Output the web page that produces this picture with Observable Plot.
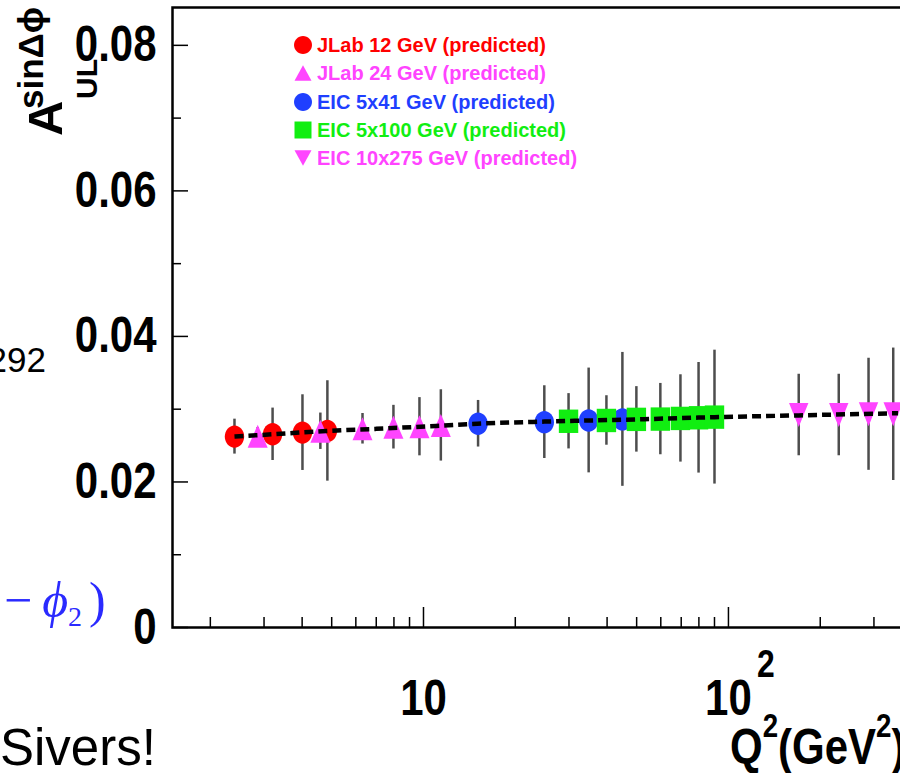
<!DOCTYPE html>
<html><head><meta charset="utf-8">
<script src="https://cdn.jsdelivr.net/npm/d3@7"></script>
<script src="https://cdn.jsdelivr.net/npm/@observablehq/plot@0.6"></script>
<style>
html,body{margin:0;padding:0;background:#fff;overflow:hidden;width:900px;height:773px;}
#wrap{position:absolute;left:0;top:0;width:900px;height:773px;overflow:hidden;}
#wrap svg{max-width:none !important;width:1000px !important;height:773px !important;}
</style></head><body>
<div id="wrap"></div>
<script>
// ---- data ----
const seriesNames = ["JLab 12 GeV (predicted)", "JLab 24 GeV (predicted)", "EIC 5x41 GeV (predicted)", "EIC 5x100 GeV (predicted)", "EIC 10x275 GeV (predicted)"];
const seriesColors = ["#ff0000", "#ff44ff", "#1f3fff", "#11ee11", "#ff44ff"];

const jlab12Q2 = [2.40, 3.20, 4.01, 4.84];
const jlab12A  = [0.02623, 0.02655, 0.02678, 0.02701];
const jlab12E  = [0.0024, 0.0036, 0.0052, 0.0069];

const jlab24Q2 = [2.86, 4.59, 6.31, 7.97, 9.70, 11.4];
const jlab24A  = [0.02628, 0.02697, 0.02731, 0.02753, 0.02759, 0.02777];
const jlab24E  = [0.0012, 0.0025, 0.0021, 0.0030, 0.0040, 0.0049];

const eic41Q2 = [15.1, 24.9, 34.8, 44.9];
const eic41A  = [0.0280, 0.02822, 0.02845, 0.0286];
const eic41E  = [0.0032, 0.0050, 0.0072, 0.0092];

const eic100Q2 = [29.9, 39.8, 49.9, 59.8, 69.6, 79.8, 90.0];
const eic100A  = [0.02834, 0.02845, 0.0286, 0.02864, 0.02873, 0.02882, 0.02891];
const eic100E  = [0.0038, 0.0034, 0.0045, 0.0049, 0.0060, 0.0076, 0.0092];

const eic275Q2 = [170, 230, 288, 347];
const eic275A  = [0.0292, 0.0292, 0.0293, 0.0293];
const eic275E  = [0.0056, 0.0056, 0.0077, 0.0091];

const curveQ2 = [2.4, 3.2, 4.8, 7, 11, 15, 25, 45, 90, 170, 360];
const curveA  = [0.02625, 0.02655, 0.0270, 0.0273, 0.0277, 0.0280, 0.0283, 0.02855, 0.0289, 0.02915, 0.02945];

const yMajor = [0, 0.02, 0.04, 0.06, 0.08];
const yMinor = [0.01, 0.03, 0.05, 0.07];
const xMajor = [10, 100];
const xMinor = [2,3,4,5,6,7,8,9,20,30,40,50,60,70,80,90,200,300,400,500];

// ---- build tables ----
function table(q, a, e, s) { return q.map((v, i) => ({q2: v, a: a[i], e: e[i], s})); }
const sets = [
  table(jlab12Q2, jlab12A, jlab12E, 0),
  table(jlab24Q2, jlab24A, jlab24E, 1),
  table(eic41Q2, eic41A, eic41E, 2),
  table(eic100Q2, eic100A, eic100E, 3),
  table(eic275Q2, eic275A, eic275E, 4)
];
const allPts = sets.flat();
const curve = curveQ2.map((q, i) => ({q2: q, a: curveA[i]}));

// ---- custom marker shapes ----
const K = 0.5523;
function ellipse(ax, ay) { return {draw(c, size) { const r = Math.sqrt(size / Math.PI), a = r*ax, b = r*ay;
  c.moveTo(a, 0); c.bezierCurveTo(a, b*K, a*K, b, 0, b); c.bezierCurveTo(-a*K, b, -a, b*K, -a, 0);
  c.bezierCurveTo(-a, -b*K, -a*K, -b, 0, -b); c.bezierCurveTo(a*K, -b, a, -b*K, a, 0); c.closePath(); }}; }
function rect(ax, ay) { return {draw(c, size) { const r = Math.sqrt(size / Math.PI), a = r*ax, b = r*ay;
  c.moveTo(-a, -b); c.lineTo(a, -b); c.lineTo(a, b); c.lineTo(-a, b); c.closePath(); }}; }
function triUp(ax, ay) { return {draw(c, size) { const r = Math.sqrt(size / Math.PI), a = r*ax, b = r*ay;
  c.moveTo(0, -b); c.lineTo(a, b); c.lineTo(-a, b); c.closePath(); }}; }
function triDown(ax, ay) { return {draw(c, size) { const r = Math.sqrt(size / Math.PI), a = r*ax, b = r*ay;
  c.moveTo(-a, -b); c.lineTo(a, -b); c.lineTo(0, b); c.closePath(); }}; }
const shapes = [ellipse(0.97, 1.12), triUp(1.0, 1.15), ellipse(0.97, 1.12), rect(0.97, 1.17), triDown(0.97, 1.2)];
const legendShapes = [ellipse(0.9, 0.9), triUp(0.85, 0.78), ellipse(0.9, 0.9), rect(0.85, 0.85), triDown(0.85, 0.78)];

const SANS = "'Liberation Sans', Arial, sans-serif";
const SQ = 0.84; // horizontal squeeze of the condensed bold labels
const W = 1000, H = 773, ML = 172, MR = 40, MT = 7, MB = 146;
const FW = W - ML - MR;

const plot = Plot.plot({
  width: W, height: H, marginLeft: ML, marginRight: MR, marginTop: MT, marginBottom: MB,
  x: {type: "log", domain: [1.503, 576.7], axis: null},
  y: {domain: [0, 0.0852], axis: null},
  style: {background: "white", fontFamily: SANS, overflow: "visible"},
  marks: [
    Plot.ruleX(allPts, {x: "q2", y1: d => d.a - d.e, y2: d => d.a + d.e, stroke: "#4d4d4d", strokeWidth: 2.5}),
    ...sets.map((pts, i) => Plot.dot(pts, {x: "q2", y: "a", r: 10, symbol: shapes[i], fill: seriesColors[i], stroke: "none"})),
    Plot.line(curve, {x: "q2", y: "a", stroke: "black", strokeWidth: 4.5, strokeDasharray: "9,5", strokeLinecap: "butt", curve: "monotone-x"}),
    Plot.tickX(xMajor, {x: d => d, insetTop: (H - MT - MB) - 20, stroke: "black", strokeWidth: 1.5}),
    Plot.tickX(xMinor, {x: d => d, insetTop: (H - MT - MB) - 10, stroke: "black", strokeWidth: 1.5}),
    Plot.tickY(yMajor, {y: d => d, insetRight: FW - 16, stroke: "black", strokeWidth: 1.5}),
    Plot.tickY(yMinor, {y: d => d, insetRight: FW - 9, stroke: "black", strokeWidth: 1.5}),
    Plot.frame({stroke: "black", strokeWidth: 2.5}),
    Plot.axisY(yMajor, {tickSize: 0, tickPadding: 16, label: null, tickFormat: d => d === 0 ? "0" : d.toFixed(2),
      fontSize: 50, fontWeight: "bold", fontFamily: SANS, fill: "black", ariaLabel: "yticklabels"}),
    Plot.axisX(xMajor, {tickSize: 0, tickPadding: 52, label: null, tickFormat: () => "10",
      fontSize: 50, fontWeight: "bold", fontFamily: SANS, fill: "black", ariaLabel: "xticklabels"})
  ]
});
document.getElementById("wrap").appendChild(plot);

const svg = d3.select(plot);
// squeeze tick label glyphs horizontally (condensed look of the reference)
svg.selectAll("text").each(function() {
  const t = this.getAttribute("transform") || "";
  if (t) this.setAttribute("transform", t + ` scale(${SQ},1)`);
  const x = this.getAttribute("x");
  if (x) this.setAttribute("x", (+x) / SQ);
});

const xs = plot.scale("x");
const x100 = xs.apply(100);
function sq(sel, x, y) { return sel.attr("transform", `translate(${x},${y}) scale(${SQ},1)`); }

sq(svg.append("text"), x100 + 29, 677).attr("text-anchor", "start").attr("font-family", SANS).attr("font-weight", "bold")
  .attr("font-size", 38).attr("fill", "black").text("2");

// x-axis title
const xt = sq(svg.append("text"), 730, 764).attr("text-anchor", "start").attr("font-family", SANS).attr("font-weight", "bold")
  .attr("font-size", 50).attr("fill", "black");
xt.append("tspan").text("Q");
xt.append("tspan").attr("dy", -27).attr("font-size", 33).text("2");
xt.append("tspan").attr("dy", 27).text("(GeV");
xt.append("tspan").attr("dy", -27).attr("font-size", 33).text("2");
xt.append("tspan").attr("dy", 27).text(")");

// y-axis title (rotated)
const yt = svg.append("g").attr("transform", "translate(62,136) rotate(-90)").attr("text-anchor", "start")
  .attr("font-family", SANS).attr("font-weight", "bold").attr("fill", "black");
yt.append("text").attr("x", 0).attr("y", 0).attr("font-size", 49).text("A");
yt.append("text").attr("x", 27).attr("y", -19).attr("font-size", 35).text("sinΔϕ");
yt.append("text").attr("x", 37).attr("y", 35).attr("font-size", 30).text("UL");

// legend
const lg = svg.append("g").attr("text-anchor", "start");
const rowY = [45, 73, 102, 130, 158];
seriesNames.forEach((name, i) => {
  lg.append("path").attr("transform", `translate(303,${rowY[i]})`)
    .attr("d", d3.symbol(legendShapes[i], Math.PI * 100)()).attr("fill", seriesColors[i]);
  lg.append("text").attr("x", 317).attr("y", rowY[i] + 7).attr("font-size", 20).attr("font-weight", "bold")
    .attr("font-family", SANS).attr("fill", seriesColors[i]).text(name);
});

// fragments of the surrounding slide
svg.append("text").attr("x", 46).attr("y", 372).attr("text-anchor", "end").attr("font-size", 35)
  .attr("font-family", SANS).attr("fill", "black").text("292");
const ph = svg.append("text").attr("x", 4).attr("y", 617).attr("text-anchor", "start").attr("font-size", 50)
  .attr("font-family", "'Liberation Serif', serif").attr("fill", "#2a2aff");
ph.append("tspan").text("−");
ph.append("tspan").attr("dx", 10).attr("font-style", "italic").text("ϕ");
ph.append("tspan").attr("dy", 9).attr("font-size", 28).text("2");
ph.append("tspan").attr("dy", -9).attr("dx", 7).text(")");
svg.append("text").attr("x", 0).attr("y", 765).attr("text-anchor", "start").attr("font-size", 51)
  .attr("font-family", SANS).attr("fill", "black").text("Sivers!");
</script>
</body></html>
